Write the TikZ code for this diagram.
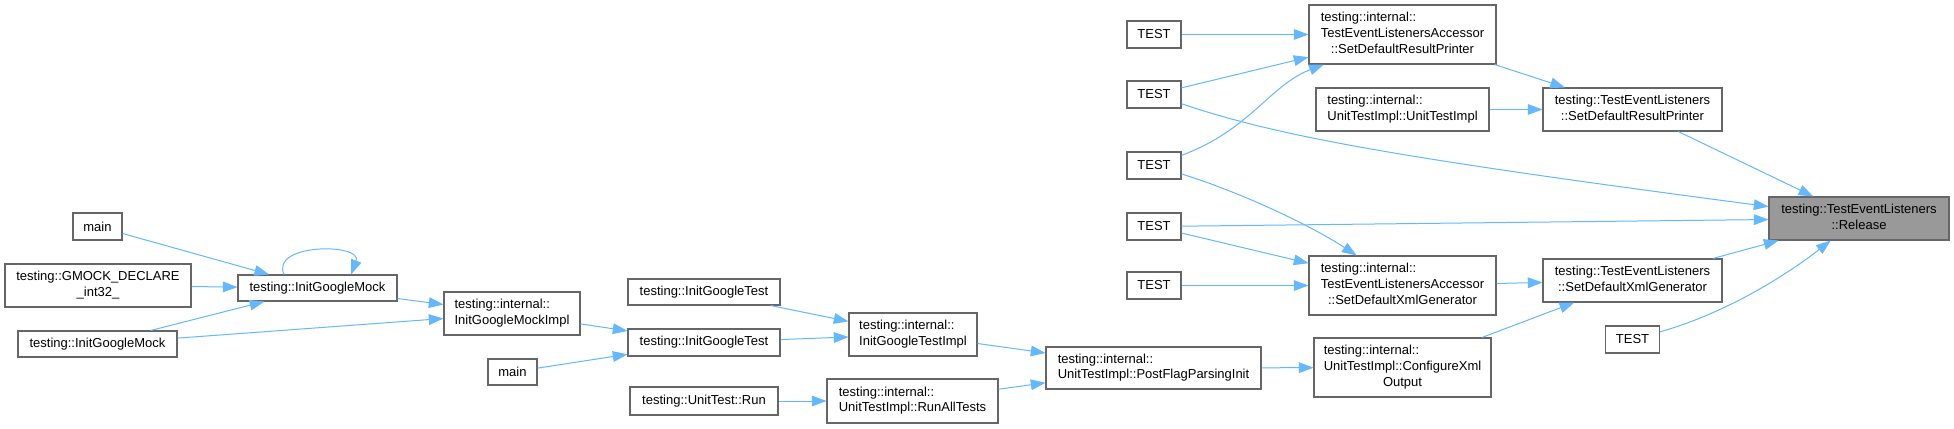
\documentclass[tikz,border=0pt]{standalone}
\usepackage{fontspec}
\setmainfont{Liberation Sans}
\usetikzlibrary{arrows.meta}

\definecolor{edgeblue}{HTML}{63B8FF}
\definecolor{framegray}{HTML}{666666}
\definecolor{curgray}{HTML}{999999}

% doxygen style labels: lines left, last line centred
\newcommand{\ltwo}[2]{\begin{tabular}{@{}l@{}}#1\\\multicolumn{1}{@{}c@{}}{#2}\end{tabular}}
\newcommand{\lthree}[3]{\begin{tabular}{@{}l@{}}#1\\#2\\\multicolumn{1}{@{}c@{}}{#3}\end{tabular}}

\tikzset{
  fn/.style={draw=framegray, line width=0.8pt, fill=white, inner sep=0pt,
    font=\fontsize{9.75}{11.75}\selectfont},
  sz/.style 2 args={minimum width=#1*0.75pt, minimum height=#2*0.75pt},
  cur/.style={fn, fill=curgray},
  testbox/.style={fn, sz={54}{27}},
  call/.style={draw=edgeblue, line width=0.75pt, -{Triangle[length=11pt,width=8pt]}},
}

\begin{document}
\begin{tikzpicture}[x=0.75pt, y=-0.75pt]
        \fill[white] (0,0) rectangle (1954,428);
        \useasboundingbox (0,0) rectangle (1954,428);
        % left part
        \node[fn, sz={49}{27}] (m1) at (97.5,226.5) {main};
        \node[fn, sz={186}{43}] (gmock) at (98,285.5) {\ltwo{testing::GMOCK\_DECLARE}{\_int32\_}};
        \node[fn, sz={159}{26}] (igml) at (97.5,344) {testing::InitGoogleMock};
        \node[fn, sz={159}{26}] (igm) at (317.5,288) {testing::InitGoogleMock};
        \node[fn, sz={136}{43}] (igmi) at (512,313.5) {\ltwo{testing::internal::}{InitGoogleMockImpl}};
        \node[fn, sz={49}{26}] (m2) at (512.5,372) {main};
        \node[fn, sz={152}{26}] (igt1) at (704,292) {testing::InitGoogleTest};
        \node[fn, sz={152}{27}] (igt2) at (704,342.5) {testing::InitGoogleTest};
        \node[fn, sz={128}{43}] (igti) at (913,334.5) {\ltwo{testing::internal::}{InitGoogleTestImpl}};
        \node[fn, sz={148}{28}] (run) at (704,401) {testing::UnitTest::Run};
        \node[fn, sz={171}{44}] (rat) at (912.5,401) {\ltwo{testing::internal::}{UnitTestImpl::RunAllTests}};
        \node[fn, sz={215}{42}] (pfpi) at (1153.5,368) {\ltwo{testing::internal::}{UnitTestImpl::PostFlagParsingInit}};
        % right part
        \node[testbox] (t1) at (1154,34.5) {TEST};
        \node[testbox] (t2) at (1154,94.5) {TEST};
        \node[testbox] (t3) at (1154,165.5) {TEST};
        \node[testbox] (t4) at (1154,226.5) {TEST};
        \node[testbox] (t5) at (1154,285.5) {TEST};
        \node[testbox] (t6) at (1632.5,339.5) {TEST};
        \node[fn, sz={187}{59}] (asdrp) at (1402.5,34.5) {\lthree{testing::internal::}{TestEventListenersAccessor}{::SetDefaultResultPrinter}};
        \node[fn, sz={173}{43}] (uti) at (1402.5,109.5) {\ltwo{testing::internal::}{UnitTestImpl::UnitTestImpl}};
        \node[fn, sz={187}{59}] (asdxg) at (1402.5,285.5) {\lthree{testing::internal::}{TestEventListenersAccessor}{::SetDefaultXmlGenerator}};
        \node[fn, sz={177}{59}] (cxo) at (1402.5,367.5) {\lthree{testing::internal::}{UnitTestImpl::ConfigureXml}{Output}};
        \node[fn, sz={179}{43}] (sdrp) at (1632.5,109.5) {\ltwo{testing::TestEventListeners}{::SetDefaultResultPrinter}};
        \node[fn, sz={179}{43}] (sdxg) at (1632.5,280.5) {\ltwo{testing::TestEventListeners}{::SetDefaultXmlGenerator}};
        \node[cur, sz={180}{43}] (rel) at (1859,218.5) {\ltwo{testing::TestEventListeners}{::Release}};

        % calls
        \draw[call] (m1) -- (igm);
        \draw[call] (gmock) -- (igm);
        \draw[call] (igml) -- (igm);
        \draw[call] (igm.158) .. controls (270,243) and (363,243) .. (igm.22);
        \draw[call] (igm) -- (igmi);
        \draw[call] (igml) -- (igmi);
        \draw[call] (igmi) -- (igt2);
        \draw[call] (m2) -- (igt2);
        \draw[call] (igt1) -- (igti);
        \draw[call] (igt2) -- (igti);
        \draw[call] (igti) -- (pfpi);
        \draw[call] (run) -- (rat);
        \draw[call] (rat) -- (pfpi);
        \draw[call] (pfpi) -- (cxo);
        \draw[call] (cxo) -- (sdxg);
        \draw[call] (t1) -- (asdrp);
        \draw[call] (t2) -- (asdrp);
        \draw[call] (t3) .. controls (1250,130) and (1270,85) .. (asdrp);
        \draw[call] (t2) .. controls (1280,137) and (1400,158) .. (rel);
        \draw[call] (t3) .. controls (1240,192) and (1310,225) .. (asdxg);
        \draw[call] (t4) -- (rel);
        \draw[call] (t4) -- (asdxg);
        \draw[call] (t5) -- (asdxg);
        \draw[call] (asdrp) -- (sdrp);
        \draw[call] (uti) -- (sdrp);
        \draw[call] (sdrp) -- (rel);
        \draw[call] (asdxg) -- (sdxg);
        \draw[call] (sdxg) -- (rel);
        \draw[call] (t6) .. controls (1720,315) and (1780,280) .. (rel);
\end{tikzpicture}
\end{document}
